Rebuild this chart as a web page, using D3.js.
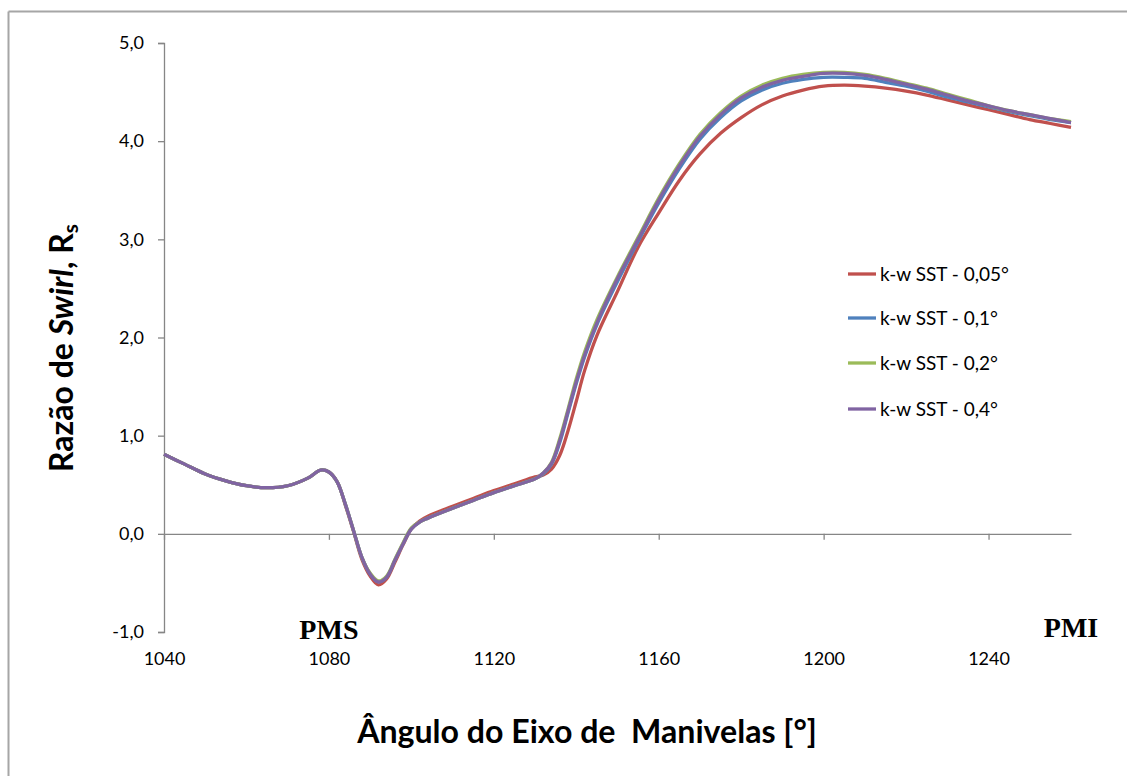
<!DOCTYPE html>
<html><head><meta charset="utf-8">
<script src="https://cdn.jsdelivr.net/npm/d3@7"></script>
<style>
html,body{margin:0;padding:0;background:#fff;}
svg{display:block;}
</style></head>
<body>
<svg id="chart" width="1127" height="776"></svg>
<script>
// ---- data ----
const angles = [1040,1045,1050,1055,1060,1065,1070,1075,1078,1080,1082,1084,1086,1088,1090,1092,1094,1096,1098,1100,1102,1104,1110,1115,1120,1125,1130,1132,1134,1136,1138,1140,1142,1145,1150,1155,1160,1165,1170,1175,1180,1185,1190,1195,1200,1205,1210,1215,1220,1225,1230,1235,1240,1245,1250,1255,1260];

const s005 = [0.81,0.71,0.61,0.54,0.49,0.47,0.49,0.57,0.65,0.63,0.53,0.29,0.02,-0.26,-0.43,-0.52,-0.46,-0.29,-0.11,0.05,0.13,0.18,0.28,0.36,0.44,0.51,0.58,0.60,0.66,0.80,1.05,1.35,1.66,2.02,2.47,2.92,3.27,3.60,3.87,4.08,4.24,4.37,4.46,4.52,4.56,4.57,4.56,4.54,4.51,4.47,4.42,4.37,4.32,4.27,4.22,4.18,4.14];
const s01  = [0.81,0.71,0.61,0.54,0.49,0.47,0.49,0.57,0.65,0.63,0.53,0.30,0.03,-0.24,-0.41,-0.49,-0.44,-0.27,-0.10,0.05,0.12,0.16,0.26,0.34,0.42,0.49,0.56,0.61,0.71,0.93,1.23,1.53,1.80,2.13,2.57,2.98,3.37,3.72,4.02,4.24,4.41,4.52,4.59,4.63,4.65,4.65,4.64,4.60,4.56,4.51,4.45,4.40,4.35,4.30,4.26,4.22,4.19];
const s02  = [0.81,0.71,0.61,0.54,0.49,0.47,0.49,0.57,0.65,0.63,0.53,0.30,0.03,-0.24,-0.40,-0.48,-0.43,-0.26,-0.09,0.06,0.12,0.16,0.26,0.34,0.42,0.49,0.56,0.62,0.73,0.97,1.27,1.58,1.85,2.18,2.62,3.02,3.42,3.77,4.07,4.29,4.46,4.57,4.64,4.68,4.70,4.70,4.68,4.64,4.59,4.54,4.48,4.42,4.36,4.31,4.27,4.23,4.20];
const s04  = [0.81,0.71,0.61,0.54,0.49,0.47,0.49,0.57,0.65,0.63,0.53,0.30,0.03,-0.24,-0.41,-0.49,-0.44,-0.27,-0.10,0.05,0.12,0.16,0.26,0.34,0.42,0.49,0.56,0.62,0.72,0.95,1.25,1.55,1.82,2.15,2.60,3.00,3.40,3.75,4.05,4.27,4.44,4.55,4.62,4.66,4.69,4.69,4.67,4.63,4.58,4.53,4.47,4.41,4.36,4.31,4.27,4.23,4.19];

const seriesNames = ["k-w SST - 0,05°","k-w SST - 0,1°","k-w SST - 0,2°","k-w SST - 0,4°"];
const seriesValues = [s005, s01, s02, s04];
const seriesColors = ["#C0504D","#4F81BD","#9BBB59","#8064A2"];
const xTicks = [1040,1080,1120,1160,1200,1240];
const yTicks = [-1,0,1,2,3,4,5];
const xTitle = "Ângulo do Eixo de  Manivelas [°]";
const markers = [{label:"PMS", angle:1080}, {label:"PMI", angle:1260}];

// ---- drawing ----
const svg = d3.select("#chart");
const fmt = v => v.toFixed(1).replace(".", ",");
const x = d3.scaleLinear().domain([1040,1260]).range([164,1071]);
const y = d3.scaleLinear().domain([-1,5]).range([632,43]);
const axisColor = "#868686";
const tickFont = "Lato, 'Open Sans', sans-serif";

// outer border (left & top)
svg.append("line").attr("x1",8.5).attr("x2",8.5).attr("y1",11.5).attr("y2",776)
  .attr("stroke","#a6a6a6").attr("stroke-width",2);
svg.append("line").attr("x1",8.5).attr("x2",1127).attr("y1",11.5).attr("y2",11.5)
  .attr("stroke","#a6a6a6").attr("stroke-width",2);

// y axis
const yAxis = d3.axisLeft(y).tickValues(yTicks).tickFormat(fmt).tickSize(6).tickPadding(14);
const gy = svg.append("g").attr("transform","translate(164,0)").call(yAxis);
gy.select(".domain").attr("stroke",axisColor).attr("stroke-width",1.3);
gy.selectAll(".tick line").attr("stroke",axisColor).attr("stroke-width",1.3);
gy.selectAll(".tick text").attr("font-family",tickFont).attr("font-size",18).attr("fill","#000");

// x axis at y=0
const xAxis = d3.axisBottom(x).tickValues(xTicks).tickFormat(d3.format("d")).tickSize(6).tickSizeOuter(0);
const gx = svg.append("g").attr("transform",`translate(0,${y(0)})`).call(xAxis);
gx.select(".domain").attr("stroke",axisColor).attr("stroke-width",1.3);
gx.selectAll(".tick line").attr("stroke",axisColor).attr("stroke-width",1.3);
gx.selectAll(".tick text").attr("font-family",tickFont).attr("font-size",18).attr("fill","#000")
  .attr("y", 665 - y(0) - 6).attr("dy","0.35em");

// lines
const line = d3.line().x((d,i)=>x(angles[i])).y(d=>y(d)).curve(d3.curveCatmullRom.alpha(0.5));
seriesValues.forEach((vals,k)=>{
  svg.append("path").datum(vals).attr("d",line).attr("fill","none")
    .attr("stroke",seriesColors[k]).attr("stroke-width",3.3).attr("stroke-linejoin","round");
});

// legend
const legendY = [274,318,363,409];
seriesNames.forEach((n,k)=>{
  svg.append("line").attr("x1",848).attr("x2",876).attr("y1",legendY[k]).attr("y2",legendY[k])
    .attr("stroke",seriesColors[k]).attr("stroke-width",3.3);
  const t = svg.append("text").attr("x",880).attr("y",legendY[k]).attr("dy","0.35em")
    .attr("font-family",tickFont).attr("font-size",19).attr("fill","#000").text(n);
});

// PMS / PMI markers
svg.append("text").attr("x",x(markers[0].angle)).attr("y",639).attr("text-anchor","middle")
  .attr("font-family","'Liberation Serif','Times New Roman',serif").attr("font-weight","bold")
  .attr("font-size",28).text(markers[0].label);
svg.append("text").attr("x",x(markers[1].angle)).attr("y",637).attr("text-anchor","middle")
  .attr("font-family","'Liberation Serif','Times New Roman',serif").attr("font-weight","bold")
  .attr("font-size",28).text(markers[1].label);

// fit helper
function fit(sel, target){
  const w = sel.node().getComputedTextLength();
  const fs = parseFloat(sel.attr("font-size"));
  sel.attr("font-size", fs*target/w);
}

// x title
const xt = svg.append("text").attr("x",587).attr("y",743).attr("text-anchor","middle")
  .attr("font-family",tickFont).attr("font-weight","bold").attr("font-size",26)
  .attr("xml:space","preserve").style("white-space","pre").text(xTitle);
fit(xt, 460);

// y title
const yt = svg.append("text").attr("transform","translate(73,348) rotate(-90)")
  .attr("text-anchor","middle").attr("font-family",tickFont).attr("font-weight","bold").attr("font-size",26);
yt.append("tspan").text("Razão de ");
yt.append("tspan").attr("font-style","italic").text("Swirl");
yt.append("tspan").text(", R");
yt.append("tspan").attr("font-size","0.65em").attr("dy","0.25em").text("s");
fit(yt, 248);
</script>
</body></html>
